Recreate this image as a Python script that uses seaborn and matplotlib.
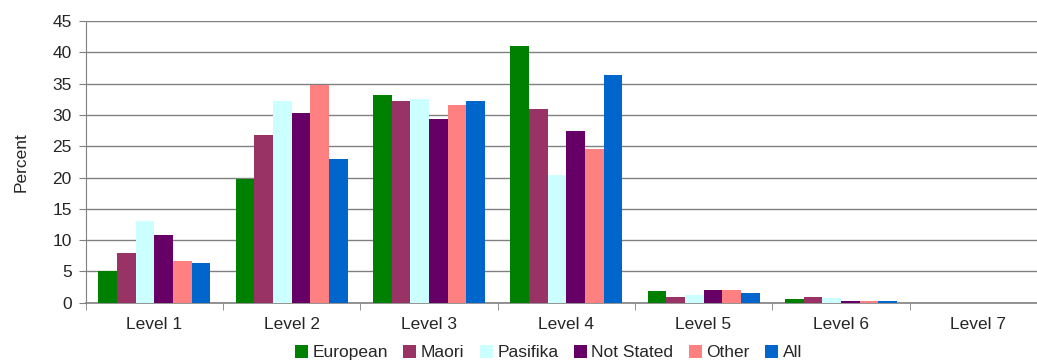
import pandas as pd
import matplotlib
matplotlib.use("Agg")
import matplotlib.pyplot as plt
import seaborn as sns

# data
levels = ["Level 1", "Level 2", "Level 3", "Level 4", "Level 5", "Level 6", "Level 7"]
groups = ["European", "Maori", "Pasifika", "Not Stated", "Other", "All"]
european = [5.0, 19.7, 33.1, 41.0, 1.8, 0.6, 0.0]
maori = [7.9, 26.8, 32.2, 30.9, 0.9, 0.9, 0.0]
pasifika = [13.1, 32.2, 32.5, 20.4, 1.3, 0.75, 0.0]
not_stated = [10.8, 30.3, 29.3, 27.4, 2.0, 0.3, 0.0]
other = [6.7, 34.8, 31.6, 24.6, 2.0, 0.3, 0.0]
all_students = [6.3, 23.0, 32.2, 36.4, 1.55, 0.3, 0.0]
colors = ["#008000", "#993366", "#CCFFFF", "#660066", "#FF8080", "#0066CC"]

series = [european, maori, pasifika, not_stated, other, all_students]
rows = []
for g, vals in zip(groups, series):
    for lvl, v in zip(levels, vals):
        rows.append({"level": lvl, "group": g, "pct": v})
df = pd.DataFrame(rows)

sns.set_style("white")
plt.rcParams["font.family"] = ["Liberation Sans", "DejaVu Sans"]

fig = plt.figure(figsize=(10.37, 3.64), dpi=100)
ax = fig.add_axes([0.0825, 0.1684, 0.927, 0.7739])

sns.barplot(data=df, x="level", y="pct", hue="group", hue_order=groups,
            order=levels, palette=colors, saturation=1, width=0.816, gap=0,
            edgecolor="none", linewidth=0, ax=ax, zorder=3)

ax.set_ylim(0, 45)
ax.set_yticks(range(0, 50, 5))
ax.set_xlim(-0.5, len(levels) - 0.5)
ax.yaxis.grid(True, color="#808080", linewidth=1, zorder=0)
ax.set_axisbelow(True)

for s in ["top", "right"]:
    ax.spines[s].set_visible(False)
ax.spines["left"].set_color("#808080")
ax.spines["bottom"].set_color("#808080")
ax.spines["bottom"].set_linewidth(1.2)

ax.tick_params(axis="y", which="major", length=5, color="#808080", labelsize=12.5,
               left=True, direction="out", pad=5)
ax.tick_params(axis="x", which="major", length=0, labelsize=12.5, pad=10)
ax.set_xticks([i + 0.5 for i in range(-1, len(levels))], minor=True)
ax.tick_params(axis="x", which="minor", length=5, color="#808080", bottom=True,
               direction="out")

ax.set_xlabel("")
ax.set_ylabel("Percent", fontsize=12.5, labelpad=17)

handles, labels = ax.get_legend_handles_labels()
ax.legend_.remove()
fig.legend(handles, labels, loc="center", bbox_to_anchor=(0.529, 0.031), ncol=6,
           frameon=False, fontsize=12.5, handlelength=0.75, handleheight=0.75,
           handletextpad=0.25, columnspacing=0.9)

fig.savefig("out.png", dpi=100)
